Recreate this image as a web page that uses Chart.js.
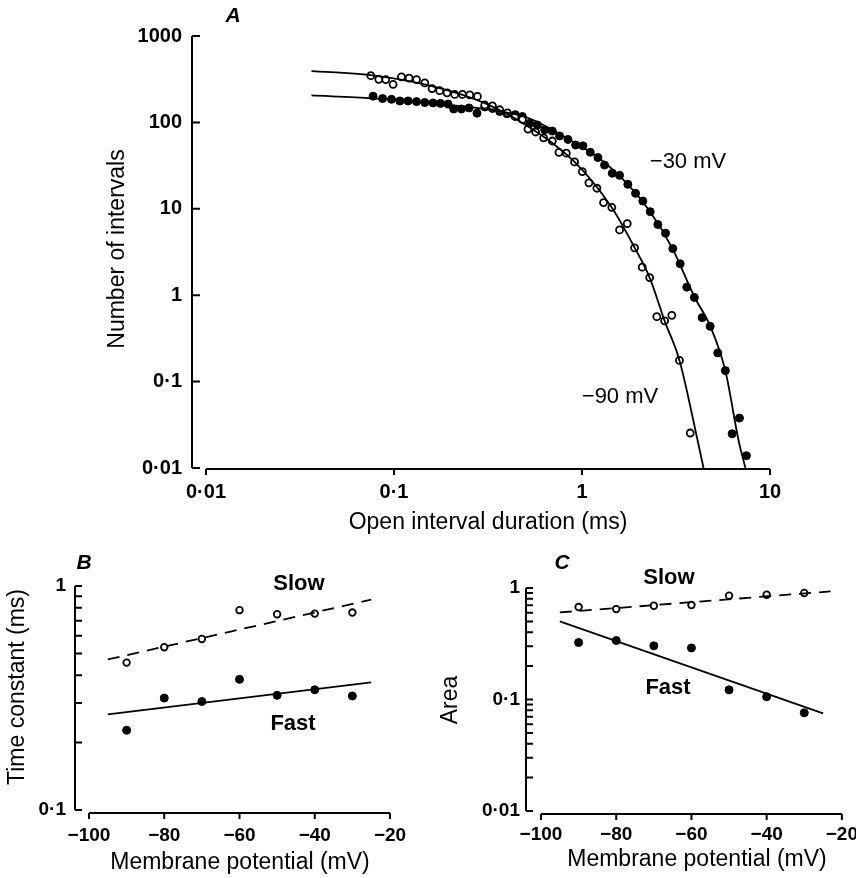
<!DOCTYPE html>
<html><head><meta charset="utf-8">
<script src="https://cdn.jsdelivr.net/npm/chart.js@4.4.1/dist/chart.umd.min.js"></script>
<style>
html,body{margin:0;padding:0;background:#fff;overflow:hidden;width:856px;height:878px}
canvas{position:absolute;left:0;top:0}
</style></head><body>
<canvas id="cA" width="870" height="878"></canvas>
<canvas id="cB" width="870" height="878"></canvas>
<canvas id="cC" width="870" height="878"></canvas>
<script>
// A: open interval histograms (ms, counts)
const durOpen90 = [0.0753,0.0830,0.0904,0.0989,0.1096,0.1203,0.1317,0.1458,0.1594,0.175,0.1915,0.2104,0.2312,0.2529,0.2778,0.304,0.3339,0.365,0.401,0.440,0.4818,0.516,0.567,0.625,0.695,0.754,0.825,0.913,1.004,1.088,1.2,1.302,1.441,1.584,1.741,1.904,2.091,2.29,2.5,2.75,3.004,3.3,3.763];
const nOpen90 = [347,315,313,276,337,326,313,286,246,233,220,211,211,208,200,159,155,140,129,117,108,83.6,77.4,66.3,60.9,45.1,44.0,34.9,27.0,20.0,17.3,11.8,10.4,5.69,6.75,3.53,2.11,1.60,0.564,0.505,0.585,0.176,0.0254];
const durFilled30 = [0.0774,0.0869,0.0970,0.1074,0.1188,0.1317,0.1458,0.1614,0.1767,0.1939,0.2078,0.2284,0.2506,0.2764,0.304,0.3339,0.365,0.399,0.442,0.4818,0.527,0.579,0.633,0.695,0.760,0.842,0.925,1.011,1.107,1.215,1.318,1.449,1.584,1.753,1.927,2.107,2.306,2.531,2.782,3.041,3.329,3.610,3.96,4.357,4.805,5.275,5.79,6.29,6.88,7.49];
const nFilled30 = [201,189,185,177,177,174,170,168,166,163,143,143,147,128,151,145,134,126,123,117,97.5,93.3,82.1,79.4,69.8,63.5,54.7,53.6,45.1,39.2,32.1,25.8,24.4,19.2,15.1,12.3,9.26,6.58,5.22,3.46,2.31,1.24,0.943,0.550,0.436,0.215,0.134,0.0249,0.0378,0.0139];
const fit90x = [0.0364,0.0753,0.175,0.304,0.514,0.913,1.437,1.904,2.29,2.75,3.30,4.13,4.43];
const fit90y = [393,352,250,167,90.2,34.9,10.4,3.55,1.60,0.505,0.176,0.0204,0.01];
const fit30x = [0.0364,0.077,0.175,0.304,0.527,0.839,1.21,1.747,2.29,3.03,3.96,4.82,5.79,6.82,7.40];
const fit30y = [205,190,163,143,111,64.7,39.7,19.3,9.43,3.46,0.96,0.433,0.133,0.0204,0.01];
const xTicksA = [0.01,0.1,1,10], yTicksA = [0.01,0.1,1,10,100,1000];

// B, C: fitted components vs membrane potential
const potentials = [-90,-80,-70,-60,-50,-40,-30];
const tauSlow = [0.455,0.533,0.58,0.78,0.748,0.753,0.761];
const tauFast = [0.227,0.316,0.305,0.383,0.325,0.344,0.323];
const areaSlow = [0.675,0.647,0.693,0.703,0.853,0.871,0.902];
const areaFast = [0.324,0.338,0.303,0.29,0.122,0.106,0.076];
const lineX = [-95,-25], lineXC = [-95,-23];
const tauSlowLine = [0.47,0.869], tauFastLine = [0.267,0.371];
const areaSlowLine = [0.604,0.932], areaFastLine = [0.501,0.0752];
const xTicksBC = [-100,-80,-60,-40,-20];
const yTicksB = [0.1,1], yTicksC = [0.01,0.1,1];
const minorB = [0.2,0.3,0.4,0.5,0.6,0.7,0.8,0.9];
const minorC = [0.02,0.03,0.04,0.05,0.06,0.07,0.08,0.09,0.2,0.3,0.4,0.5,0.6,0.7,0.8,0.9];

const FF = '"Liberation Sans", Arial, sans-serif';
const fmt = v => String(v).replace('.', '\u00b7').replace('-', '\u2212');
const xy = (xs, ys) => xs.map((x, i) => ({x, y: ys[i]}));

const frame = {
  id: 'frame',
  afterDraw(ch, args, o) {
    const c = ch.ctx, a = ch.chartArea, xs = ch.scales.x, ys = ch.scales.y;
    const yl = a.left - o.gap, xl = a.bottom + o.drop;
    c.save(); c.strokeStyle = '#000'; c.lineWidth = 2; c.beginPath();
    c.moveTo(yl, ys.getPixelForValue(ys.max)); c.lineTo(yl, ys.getPixelForValue(ys.min));
    ys.ticks.map(t => t.value).concat(o.minor || []).forEach(v => {
      const p = ys.getPixelForValue(v); c.moveTo(yl, p); c.lineTo(yl + o.tick, p);
    });
    c.moveTo(xs.getPixelForValue(xs.min), xl); c.lineTo(xs.getPixelForValue(xs.max), xl);
    xs.ticks.forEach(t => { const p = xs.getPixelForValue(t.value); c.moveTo(p, xl); c.lineTo(p, xl + o.xtick); });
    c.stroke();
    c.fillStyle = '#000'; c.textAlign = 'center'; c.textBaseline = 'middle';
    o.texts.forEach(t => {
      c.save(); c.font = t.f; c.translate(t.x, t.y); if (t.r) c.rotate(-Math.PI / 2); c.fillText(t.s, 0, 0); c.restore();
    });
    c.restore();
  }
};

function axis(type, min, max, ticks, size, pad, fontSize, horiz) {
  return {
    type, min, max,
    afterBuildTicks: s => { s.ticks = ticks.map(v => ({value: v})); },
    afterFit: s => { if (horiz) s.height = size; else s.width = size; },
    grid: {display: false, drawTicks: false}, border: {display: false},
    ticks: {padding: pad, color: '#000', autoSkip: false, maxRotation: 0, font: {family: FF, size: fontSize, weight: 'bold'}, callback: fmt}
  };
}
const pts = (data, open, r) => ({data, showLine: false, pointRadius: r, pointHoverRadius: r, order: 2,
  pointBackgroundColor: open ? '#fff' : '#000', pointBorderColor: '#000', pointBorderWidth: open ? 1.8 : 1});
const line = (data, dash) => ({data, showLine: true, pointRadius: 0, borderColor: '#000', borderWidth: 1.8,
  borderDash: dash || [], cubicInterpolationMode: 'monotone', order: 1});

function make(id, datasets, scales, padding, frameOpts) {
  new Chart(document.getElementById(id), {
    type: 'scatter', data: {datasets},
    options: {responsive: false, animation: false, events: [], layout: {padding},
      scales, plugins: {legend: {display: false}, tooltip: {enabled: false}, frame: frameOpts}},
    plugins: [frame]
  });
}

make('cA', [
  line(xy(fit90x, fit90y)), line(xy(fit30x, fit30y)),
  pts(xy(durOpen90, nOpen90), true, 3.5), pts(xy(durFilled30, nFilled30), false, 4)
], {
  x: axis('logarithmic', 0.01, 10, xTicksA, 410, 12, 20, true),
  y: axis('logarithmic', 0.01, 1000, yTicksA, 206, 24, 20, false)
}, {left: 0, right: 100, top: 19, bottom: 0}, {gap: 14, drop: 1, tick: 8, xtick: 6, texts: [
  {s: 'A', x: 233, y: 16, f: 'italic bold 21px ' + FF},
  {s: '\u221230 mV', x: 688, y: 162, f: '22px ' + FF},
  {s: '\u221290 mV', x: 620, y: 397, f: '22px ' + FF},
  {s: 'Open interval duration (ms)', x: 488, y: 523, f: '23px ' + FF},
  {s: 'Number of intervals', x: 118, y: 249, f: '23px ' + FF, r: true}
]});

make('cB', [
  line(xy(lineX, tauSlowLine), [12, 8]), line(xy(lineX, tauFastLine)),
  pts(xy(potentials, tauSlow), true, 3.3), pts(xy(potentials, tauFast), false, 4)
], {
  x: axis('linear', -100, -20, xTicksBC, 68, 14, 19, true),
  y: axis('logarithmic', 0.1, 1, yTicksB, 89, 23, 19, false)
}, {left: 0, right: 480, top: 586, bottom: 0}, {gap: 14, drop: 3, tick: 7, xtick: 6, minor: minorB, texts: [
  {s: 'B', x: 84, y: 563, f: 'italic bold 21px ' + FF},
  {s: 'Slow', x: 299, y: 584, f: 'bold 22px ' + FF},
  {s: 'Fast', x: 293, y: 724, f: 'bold 22px ' + FF},
  {s: 'Membrane potential (mV)', x: 240, y: 863, f: '23px ' + FF},
  {s: 'Time constant (ms)', x: 18, y: 687, f: '23px ' + FF, r: true}
]});

make('cC', [
  line(xy(lineXC, areaSlowLine), [12, 8]), line(xy(lineX, areaFastLine)),
  pts(xy(potentials, areaSlow), true, 3.3), pts(xy(potentials, areaFast), false, 4)
], {
  x: axis('linear', -100, -20, xTicksBC, 67, 12, 19, true),
  y: axis('logarithmic', 0.01, 1, yTicksC, 113, 21, 19, false)
}, {left: 428, right: 28, top: 588, bottom: 0}, {gap: 15, drop: 3, tick: 7, xtick: 6, minor: minorC, texts: [
  {s: 'C', x: 562, y: 563, f: 'italic bold 21px ' + FF},
  {s: 'Slow', x: 669, y: 578, f: 'bold 22px ' + FF},
  {s: 'Fast', x: 668, y: 688, f: 'bold 22px ' + FF},
  {s: 'Membrane potential (mV)', x: 697, y: 860, f: '23px ' + FF},
  {s: 'Area', x: 451, y: 700, f: '23px ' + FF, r: true}
]});
</script>
</body></html>
